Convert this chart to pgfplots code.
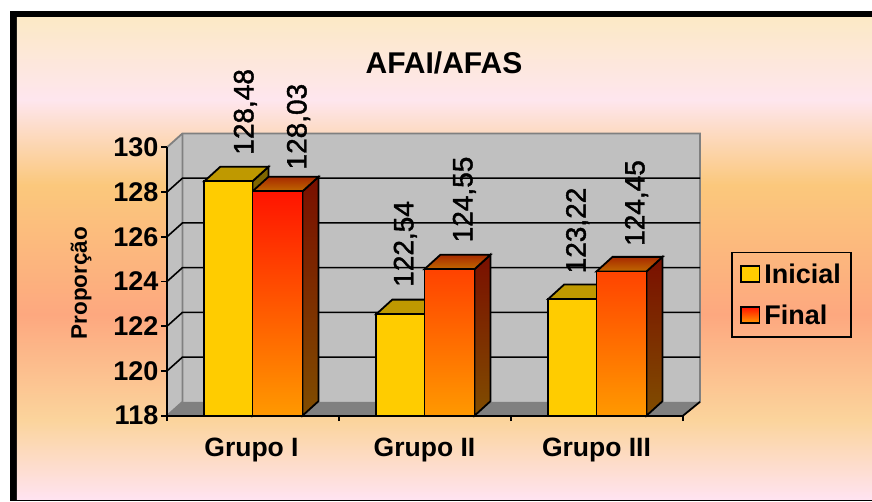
\documentclass[border=0pt]{standalone}
\usepackage{pgfplots}
\usepackage{pgfplotstable}
\usepackage{fontspec}
\pgfplotsset{compat=1.18}
\setmainfont{Liberation Sans}
\font\valfam="Liberation Sans:embolden=1.5" at 28pt
\newcommand{\titlefont}{\fontsize{30}{31}\bfseries\selectfont}
\newcommand{\tickfont}{\fontsize{27}{28}\bfseries\selectfont}
\newcommand{\groupfont}{\fontsize{26.5}{28}\bfseries\selectfont}
\newcommand{\valuefont}{\valfam}
\newcommand{\ylabfont}{\fontsize{22.5}{24}\bfseries\selectfont}
\newcommand{\legfont}{\fontsize{27}{28}\bfseries\selectfont}

\definecolor{bgA}{HTML}{FCE9C6}
\definecolor{bgB}{HTML}{FEE6EE}
\definecolor{bgC}{HTML}{FBC87C}
\definecolor{bgD}{HTML}{FDA87F}
\definecolor{bgE}{HTML}{FBD49C}
\definecolor{bgF}{HTML}{FFE3F0}
\definecolor{wall}{HTML}{C0C0C0}
\definecolor{edge}{HTML}{808080}
\definecolor{goldF}{HTML}{FFCC00}
\definecolor{goldT}{HTML}{BF9900}
\definecolor{goldS}{HTML}{7F6600}
\definecolor{redF}{HTML}{FF1400}
\definecolor{orangeF}{HTML}{FF9900}
\definecolor{redT}{HTML}{A82A00}
\definecolor{orangeT}{HTML}{C06800}
\definecolor{redS}{HTML}{7A0F00}
\definecolor{orangeS}{HTML}{804D00}

% Bands of the chart area, from bottom to top
\pgfdeclareverticalshading{bands}{100bp}{
  color(0bp)=(bgF); color(25bp)=(bgF); color(33.2bp)=(bgE); color(44.15bp)=(bgD);
  color(57.65bp)=(bgC); color(66.5bp)=(bgB); color(75bp)=(bgA); color(100bp)=(bgA)}

% Bar centres, heights and the offset of each value label
\pgfplotstableread{
x     y       dx  dy
228.4 128.48  17  25.7
400.3 122.54  5   26.5
572.3 123.22  5.4 24.7
}\inicial
\pgfplotstableread{
x     y       dx   dy
277.5 128.03  21   21
449.4 124.55  15   26
621.5 124.45  15   24.7
}\final

\begin{document}
\begin{tikzpicture}[x=1pt,y=1pt]
  \fill[white] (-167,-85.3) rectangle (705,415.7);
  \fill[black] (-157,-85.3) rectangle (705,404.7);
  \shade[shading=bands] (-150,-83.3) rectangle (705,397.7);
  \begin{axis}[
    scale only axis,
    width=516pt, height=268.4pt,
    xmin=167, xmax=683, ymin=118, ymax=130,
    clip=false,
    axis on top,
    axis x line*=bottom, axis y line*=left,
    axis line style={black,line width=2pt,-},
    tick style={black,line width=1.8pt},
    tick align=outside,
    major tick length=5.5pt,
    minor tick length=5.5pt,
    xtick={251.5,424.5,596.5},
    xticklabels={Grupo I,Grupo II,Grupo III},
    minor xtick={167,339,511,683},
    major x tick style={draw=none},
    ytick={118,120,...,130},
    /pgf/number format/assume math mode=true,
    x tick label style={font=\groupfont,yshift=-13pt},
    y tick label style={font=\tickfont,inner sep=3pt},
    title={AFAI/AFAS},
    title style={font=\titlefont,at={(axis description cs:0.5368,1.292)},anchor=center},
    ylabel={Proporção},
    ylabel style={font=\ylabfont,at={(axis description cs:-0.1665,0.494)},anchor=center},
    legend image code/.code={\draw[#1,line width=1.8pt] (0pt,-8pt) rectangle (18.7pt,8pt);},
    legend style={
      at={(1.2099,0.4512)},anchor=center,
      draw=black,line width=1.8pt,fill=none,
      font=\legfont,
      inner xsep=8pt,inner ysep=9pt,
      row sep=16pt,
      /tikz/column 1/.style={column sep=2pt},
    },
    legend cell align=left,
  ]
    % Walls and floor of the plot box
    \addplot[forget plot,fill=wall,draw=none] coordinates {(182.5,118.62)(700,118.62)(700,130.62)(182.5,130.62)} -- cycle;
    \addplot[forget plot,fill=wall,draw=none] coordinates {(167,118)(182.5,118.62)(182.5,130.62)(167,130)} -- cycle;
    \addplot[forget plot,fill=edge,draw=none] coordinates {(167,118)(683,118)(700,118.62)(182.5,118.62)} -- cycle;
    \addplot[forget plot,edge,line width=1.8pt] coordinates {(167,130)(182.5,130.62)(700,130.62)(700,118.62)};
    \addplot[forget plot,edge,line width=1.8pt] coordinates {(182.5,130.62)(182.5,118.62)(167,118)};
    % Grid lines across the side wall and the back wall
    \addplot[forget plot,black,line width=1.6pt] coordinates {(167,120)(182.5,120.62)(700,120.62)};
    \addplot[forget plot,black,line width=1.6pt] coordinates {(167,122)(182.5,122.62)(700,122.62)};
    \addplot[forget plot,black,line width=1.6pt] coordinates {(167,124)(182.5,124.62)(700,124.62)};
    \addplot[forget plot,black,line width=1.6pt] coordinates {(167,126)(182.5,126.62)(700,126.62)};
    \addplot[forget plot,black,line width=1.6pt] coordinates {(167,128)(182.5,128.62)(700,128.62)};
    \addplot[forget plot,black,line width=1.8pt] coordinates {(683,118)(700,118.62)};

    % Group I
    \addplot[forget plot,fill=goldS,draw=black,line width=1.8pt] coordinates {(252.5,118)(268.5,118.65)(268.5,129.13)(252.5,128.48)} -- cycle;
    \addplot[forget plot,fill=goldT,draw=black,line width=1.8pt] coordinates {(204.3,128.48)(252.5,128.48)(268.5,129.13)(220.3,129.13)} -- cycle;
    \addplot[forget plot,top color=redS,bottom color=orangeS,draw=black,line width=1.8pt] coordinates {(302.5,118)(318.5,118.65)(318.5,128.68)(302.5,128.03)} -- cycle;
    \addplot[forget plot,top color=redT,bottom color=orangeT,draw=black,line width=1.8pt] coordinates {(252.5,128.03)(302.5,128.03)(318.5,128.68)(268.5,128.68)} -- cycle;
    % Group II
    \addplot[forget plot,fill=goldT,draw=black,line width=1.8pt] coordinates {(376.3,122.54)(424.5,122.54)(440.5,123.19)(392.3,123.19)} -- cycle;
    \addplot[forget plot,top color=redS,bottom color=orangeS,draw=black,line width=1.8pt] coordinates {(474.5,118)(490.5,118.65)(490.5,125.2)(474.5,124.55)} -- cycle;
    \addplot[forget plot,top color=redT,bottom color=orangeT,draw=black,line width=1.8pt] coordinates {(424.5,124.55)(474.5,124.55)(490.5,125.2)(440.5,125.2)} -- cycle;
    % Group III
    \addplot[forget plot,fill=goldT,draw=black,line width=1.8pt] coordinates {(548.3,123.22)(596.5,123.22)(612.5,123.87)(564.3,123.87)} -- cycle;
    \addplot[forget plot,top color=redS,bottom color=orangeS,draw=black,line width=1.8pt] coordinates {(646.5,118)(662.5,118.65)(662.5,125.1)(646.5,124.45)} -- cycle;
    \addplot[forget plot,top color=redT,bottom color=orangeT,draw=black,line width=1.8pt] coordinates {(596.5,124.45)(646.5,124.45)(662.5,125.1)(612.5,125.1)} -- cycle;

    % Front faces with their value labels
    \addplot[forget plot,ybar,bar width=48.2,bar shift=0pt,fill=goldF,draw=black,line width=1.8pt,
      visualization depends on={\thisrow{dx} \as \ldx},
      visualization depends on={\thisrow{dy} \as \ldy},
      nodes near coords,
      nodes near coords style={shift={(\ldx pt,\ldy pt)},rotate=90,anchor=west,inner sep=0pt,font=\valuefont,
        /pgf/number format/.cd,fixed,fixed zerofill,precision=2,use comma,assume math mode=true}]
      table[x=x,y=y] {\inicial};
    \addplot[forget plot,ybar,bar width=50,bar shift=0pt,top color=redF,bottom color=orangeF,draw=black,line width=1.8pt,
      visualization depends on={\thisrow{dx} \as \ldx},
      visualization depends on={\thisrow{dy} \as \ldy},
      nodes near coords,
      nodes near coords style={shift={(\ldx pt,\ldy pt)},rotate=90,anchor=west,inner sep=0pt,font=\valuefont,
        /pgf/number format/.cd,fixed,fixed zerofill,precision=2,use comma,assume math mode=true}]
      table[x=x,y=y] {\final};

    \addlegendimage{fill=goldF,draw=black}
    \addlegendentry{Inicial}
    \addlegendimage{top color=redF,bottom color=orangeF,draw=black}
    \addlegendentry{Final}
  \end{axis}
\end{tikzpicture}
\end{document}
